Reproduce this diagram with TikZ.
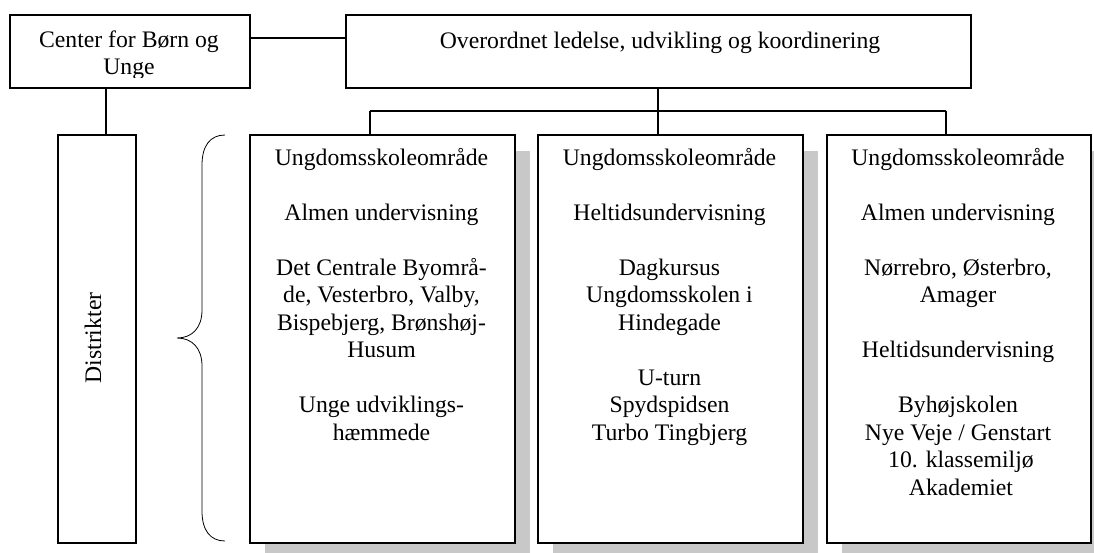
\documentclass[tikz,border=0pt]{standalone}
\usepackage{fontspec}
\setmainfont{Liberation Serif}
\begin{document}
\begin{tikzpicture}[x=1pt,y=-1pt,
  boxst/.style={draw=black,line width=2pt,fill=white,inner sep=0pt,anchor=north west},
  shadowst/.style={fill=shadowgray,draw=none},
  conn/.style={draw=black,line width=1.3pt},
  txt/.style={inner sep=0pt,anchor=base,font=\fontsize{23.7}{27.5}\selectfont}]
\definecolor{shadowgray}{RGB}{200,200,200}
\useasboundingbox (0,0) rectangle (1094,552);
% shadows
\fill[shadowgray] (265,151) rectangle (530,560);
\fill[shadowgray] (553,151) rectangle (818,560);
\fill[shadowgray] (842,151) rectangle (1106,560);
% boxes
\node[boxst,minimum width=240pt,minimum height=73pt] (cbu) at (9,14) {};
\node[boxst,minimum width=625pt,minimum height=73pt] (top) at (345,14) {};
\node[boxst,minimum width=78pt,minimum height=408pt] (dist) at (57,134) {};
\node[boxst,minimum width=265pt,minimum height=408pt] (b1) at (249,134) {};
\node[boxst,minimum width=265pt,minimum height=408pt] (b2) at (537,134) {};
\node[boxst,minimum width=264pt,minimum height=408pt] (b3) at (826,134) {};
% texts
\begin{scope}
\clip (10,15) rectangle (248,77);
\node[txt] (cbut) at (129,47) {\parbox[t]{236pt}{\centering Center for Børn og\\Unge}};
\end{scope}
\node[txt] (topt) at (660,48) {Overordnet ledelse, udvikling og koordinering};
\node[txt,anchor=center,rotate=90] (distt) at (93,338) {Distrikter};
\node[txt] (t1) at (381.5,165) {\parbox[t]{260pt}{\centering
Ungdomsskoleområde\\[27.5pt]
Almen undervisning\\[27.5pt]
Det Centrale Byområ-\\de, Vesterbro, Valby,\\Bispebjerg, Brønshøj-\\Husum\\[27.5pt]
Unge udviklings-\\hæmmede}};
\node[txt] (t2) at (669.5,165) {\parbox[t]{260pt}{\centering
Ungdomsskoleområde\\[27.5pt]
Heltidsundervisning\\[27.5pt]
Dagkursus\\Ungdomsskolen i\\Hindegade\\[27.5pt]
U-turn\\Spydspidsen\\Turbo Tingbjerg}};
\node[txt] (t3) at (958,165) {\parbox[t]{260pt}{\centering
Ungdomsskoleområde\\[27.5pt]
Almen undervisning\\[27.5pt]
Nørrebro, Østerbro,\\Amager\\[27.5pt]
Heltidsundervisning\\[27.5pt]
Byhøjskolen\\Nye Veje / Genstart\\\ 10. klassemiljø\\\ Akademiet}};
% connectors
\coordinate (j1) at (370,111);
\coordinate (j2) at (658,111);
\coordinate (j3) at (946,111);
\draw[conn] (cbu.east |- 0,38) -- (top.west |- 0,38);
\draw[conn] (cbu.south -| 106,0) -- (dist.north -| 106,0);
\draw[conn] (top.south -| j2) -- (j2);
\draw[conn] (j1) -- (j3);
\draw[conn] (j1) -- (j1 |- b1.north);
\draw[conn] (j2) -- (j2 |- b2.north);
\draw[conn] (j3) -- (j3 |- b3.north);
% brace
\draw[line width=0.8pt] (225,135) .. controls (210,135) and (202,146) .. (202,165)
  -- (202,310) .. controls (202,328) and (192,338) .. (177,338)
  .. controls (192,338) and (202,348) .. (202,366)
  -- (202,511) .. controls (202,530) and (210,541) .. (225,541);
\end{tikzpicture}
\end{document}
